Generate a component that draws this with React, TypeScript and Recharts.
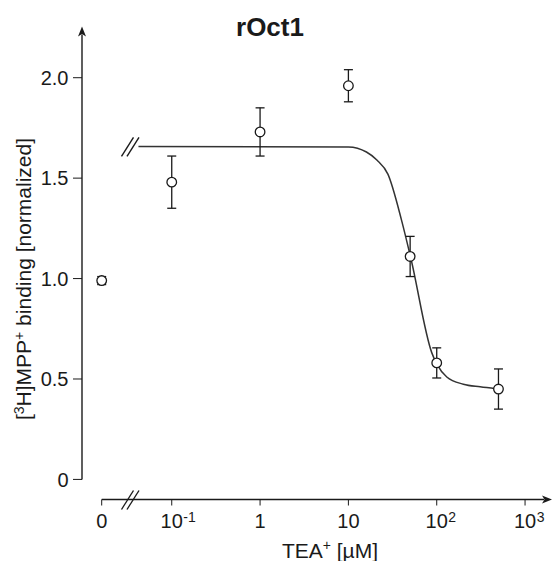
import { ComposedChart, ErrorBar, Line, ReferenceDot, ReferenceLine, Scatter, XAxis, YAxis } from "recharts";

// TEA+ concentration (µM) and normalized [3H]MPP+ binding
const concentrations = [0, 0.1, 1, 10, 50, 100, 500];
const binding = [0.99, 1.48, 1.73, 1.96, 1.11, 0.58, 0.45];
const bindingSem = [0.02, 0.13, 0.12, 0.08, 0.1, 0.075, 0.1];

// fitted curve
const fitConc = [0.042, 10, 16, 21, 28, 40, 51, 88, 100, 130, 200, 310, 470];
const fitBinding = [1.658, 1.655, 1.63, 1.59, 1.52, 1.29, 1.1, 0.63, 0.575, 0.51, 0.474, 0.461, 0.452];

const xTicks = [0, 0.1, 1, 10, 100, 1000];
const xTickBase = ["0", "10", "1", "10", "10", "10"];
const xTickExp = ["", "-1", "", "", "2", "3"];
const yTicks = [0, 0.5, 1, 1.5, 2];

const FONT = "'Liberation Sans', Arial, Helvetica, sans-serif";
const INK = "#1a1a1a";

// log10 axis; the zero dose sits left of the axis break
const ZERO_POS = -1.793;
const BREAK_POS = -1.467;
const X_MIN = -2.016;
const X_MAX = 3.305;
const toX = (c: number) => (c === 0 ? ZERO_POS : Math.log10(c));

const points = concentrations.map((c, i) => ({ x: toX(c), y: binding[i], err: bindingSem[i] }));
const fit = fitConc.map((c, i) => ({ x: toX(c), fit: fitBinding[i] }));
const xTickPos = xTicks.map(toX);

function XTick(props: any) {
  const { x, y, payload } = props;
  const i = xTickPos.findIndex((v) => Math.abs(v - payload.value) < 1e-6);
  if (i < 0) return null;
  const base = xTickBase[i];
  const exp = xTickExp[i];
  const half = base.length * 0.556 * 20 * 0.5;
  return (
    <g fontFamily={FONT} fill={INK}>
      <text x={x} y={y + 20.8} textAnchor="middle" fontSize={20}>
        {base}
      </text>
      {exp && (
        <text x={x + half + 0.5} y={y + 14.2} fontSize={14}>
          {exp}
        </text>
      )}
    </g>
  );
}

function ArrowLine(props: any) {
  const { x1, y1, x2, y2 } = props;
  const dx = x2 - x1;
  const dy = y2 - y1;
  const len = Math.sqrt(dx * dx + dy * dy) || 1;
  const ux = dx / len;
  const uy = dy / len;
  const bx = x2 - ux * 10;
  const by = y2 - uy * 10;
  const px = -uy * 4;
  const py = ux * 4;
  return (
    <g>
      <line x1={x1} y1={y1} x2={bx + ux * 2} y2={by + uy * 2} stroke={INK} strokeWidth={1.4} />
      <polygon points={`${x2},${y2} ${bx + px},${by + py} ${bx + ux * 2.5},${by + uy * 2.5} ${bx - px},${by - py}`} fill={INK} />
    </g>
  );
}

function BreakMark(props: any) {
  const { cx, cy } = props;
  return (
    <g stroke={INK} strokeWidth={1.4}>
      <line x1={cx - 9} y1={cy + 10} x2={cx + 3} y2={cy - 9} />
      <line x1={cx - 3.5} y1={cy + 10} x2={cx + 8.5} y2={cy - 9} />
    </g>
  );
}

function OpenCircle(props: any) {
  const { cx, cy } = props;
  return <circle cx={cx} cy={cy} r={4.8} fill="#fff" stroke={INK} strokeWidth={1.3} />;
}

export default function App() {
  return (
    <div style={{ position: "absolute", left: 0, top: 0, width: 552, height: 561, background: "#fff" }}>
      <ComposedChart width={552} height={561} margin={{ top: 27.5, right: 0, bottom: 21.5, left: 22 }}>
        <XAxis
          type="number"
          dataKey="x"
          domain={[X_MIN, X_MAX]}
          ticks={xTickPos}
          interval={0}
          allowDataOverflow
          axisLine={false}
          tickSize={6}
          tickMargin={2}
          stroke={INK}
          height={40}
          tick={<XTick />}
        />
        <YAxis
          type="number"
          domain={[-0.1, 2.25]}
          ticks={yTicks}
          interval={0}
          allowDataOverflow
          axisLine={false}
          width={60}
          tickSize={9}
          tickMargin={4.5}
          stroke={INK}
          tick={{ fill: INK, fontSize: 20, fontFamily: FONT }}
          tickFormatter={(v: number) => (v === 0 ? "0" : v.toFixed(1))}
        />
        <ReferenceLine
          segment={[{ x: X_MIN, y: 0 }, { x: X_MIN, y: 2.255 }]}
          ifOverflow="visible"
          shape={<ArrowLine />}
        />
        <ReferenceLine
          segment={[{ x: ZERO_POS, y: -0.1 }, { x: X_MAX, y: -0.1 }]}
          ifOverflow="visible"
          shape={<ArrowLine />}
        />
        <ReferenceDot x={BREAK_POS} y={-0.1} ifOverflow="visible" shape={<BreakMark />} />
        <ReferenceDot x={BREAK_POS} y={fitBinding[0]} ifOverflow="visible" shape={<BreakMark />} />
        <Line
          data={fit}
          dataKey="fit"
          type="monotone"
          stroke="#333"
          strokeWidth={1.5}
          dot={false}
          activeDot={false}
          isAnimationActive={false}
        />
        <Scatter data={points} dataKey="y" shape={<OpenCircle />} isAnimationActive={false}>
          <ErrorBar dataKey="err" direction="y" width={4.5} stroke={INK} strokeWidth={1.3} isAnimationActive={false} />
        </Scatter>
      </ComposedChart>
      <svg
        width={552}
        height={561}
        style={{ position: "absolute", left: 0, top: 0, pointerEvents: "none" }}
        fontFamily={FONT}
        fill={INK}
      >
        <text x={270} y={36} textAnchor="middle" fontSize={26} fontWeight="bold">
          rOct1
        </text>
        <text transform="translate(31, 279) rotate(-90)" textAnchor="middle" fontSize={21}>
          [<tspan fontSize={14} dy={-7}>3</tspan>
          <tspan dy={7}>H]MPP</tspan>
          <tspan fontSize={14} dy={-7}>+</tspan>
          <tspan dy={7}> binding [normalized]</tspan>
        </text>
        <text x={330} y={558} textAnchor="middle" fontSize={21}>
          TEA<tspan fontSize={14} dy={-8}>+</tspan>
          <tspan dy={8}> [µM]</tspan>
        </text>
      </svg>
    </div>
  );
}
